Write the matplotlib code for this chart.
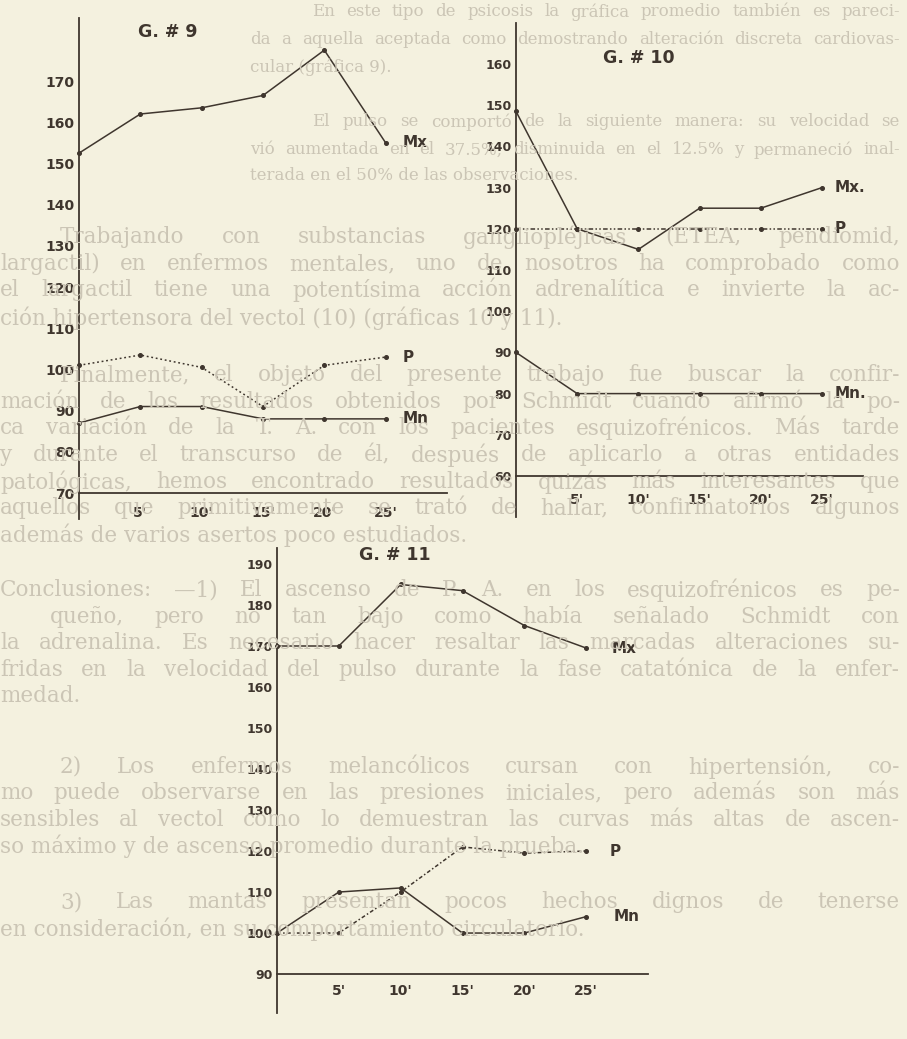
import matplotlib
matplotlib.use("Agg")
import matplotlib.pyplot as plt

# ---------------- data ----------------
minutes = [0, 5, 10, 15, 20, 25]
x_tick_minutes = [5, 10, 15, 20, 25]
x_tick_labels = ["5'", "10'", "15'", "20'", "25'"]

g9_mx = [152.5, 162, 163.5, 166.5, 177.5, 155]
g9_p = [101, 103.5, 100.5, 91, 101, 103]
g9_mn = [87, 91, 91, 88, 88, 88]
g9_yticks = [70, 80, 90, 100, 110, 120, 130, 140, 150, 160, 170]

g10_mx = [148.5, 120, 115, 125, 125, 130]
g10_p = [120, 120, 120, 120, 120, 120]
g10_mn = [90, 80, 80, 80, 80, 80]
g10_yticks = [60, 70, 80, 90, 100, 110, 120, 130, 140, 150, 160]

g11_mx = [170, 170, 185, 183.5, 175, 169.5]
g11_p = [100, 100, 110, 121, 119.5, 120]
g11_mn = [100, 110, 111, 100, 100, 104]
g11_yticks = [90, 100, 110, 120, 130, 140, 150, 160, 170, 180, 190]

titles = ["G. # 9", "G. # 10", "G. # 11"]
series_labels_9 = ["Mx", "P", "Mn"]
series_labels_10 = ["Mx.", "P", "Mn."]
series_labels_11 = ["Mx", "P", "Mn"]

# faint page text (y px, x px, justified, text)
page_lines = [
    (12, 312, True, "En este tipo de psicosis la gráfica promedio también es pareci-"),
    (40, 250, True, "da a aquella aceptada como demostrando alteración discreta cardiovas-"),
    (67, 250, False, "cular (gráfica 9)."),
    (122, 312, True, "El pulso se comportó de la siguiente manera: su velocidad se"),
    (150, 250, True, "vió aumentada en el 37.5%, disminuida en el 12.5% y permaneció inal-"),
    (176, 250, False, "terada en el 50% de las observaciones."),
    (237, 60, True, "Trabajando con substancias gangliopléjicas (ETEA, pendiomid,"),
    (264, 0, True, "largactil) en enfermos mentales, uno de nosotros ha comprobado como"),
    (290, 0, True, "el largactil tiene una potentísima acción adrenalítica e invierte la ac-"),
    (318, 0, False, "ción hipertensora del vectol (10) (gráficas 10 y 11)."),
    (375, 60, True, "Finalmente, el objeto del presente trabajo fue buscar la confir-"),
    (402, 0, True, "mación de los resultados obtenidos por Schmidt cuando afirmó la po-"),
    (428, 0, True, "ca variación de la T. A. con los pacientes esquizofrénicos. Más tarde"),
    (455, 0, True, "y durante el transcurso de él, después de aplicarlo a otras entidades"),
    (482, 0, True, "patológicas, hemos encontrado resultados quizás más interesantes que"),
    (508, 0, True, "aquellos que primitivamente se trató de hallar, confirmatorios algunos"),
    (535, 0, False, "además de varios asertos poco estudiados."),
    (590, 0, True, "Conclusiones: —1) El ascenso de P. A. en los esquizofrénicos es pe-"),
    (617, 50, True, "queño, pero no tan bajo como había señalado Schmidt con"),
    (643, 0, True, "la adrenalina. Es necesario hacer resaltar las marcadas alteraciones su-"),
    (670, 0, True, "fridas en la velocidad del pulso durante la fase catatónica de la enfer-"),
    (696, 0, False, "medad."),
    (767, 60, True, "2) Los enfermos melancólicos cursan con hipertensión, co-"),
    (793, 0, True, "mo puede observarse en las presiones iniciales, pero además son más"),
    (820, 0, True, "sensibles al vectol como lo demuestran las curvas más altas de ascen-"),
    (846, 0, False, "so máximo y de ascenso promedio durante la prueba."),
    (902, 60, True, "3) Las mantas presentan pocos hechos dignos de tenerse"),
    (929, 0, False, "en consideración, en su comportamiento circulatorio."),
]

# ---------------- style ----------------
W, H = 907, 1039
PAPER = "#f4f1df"
INK = "#3f362e"
FAINT = "#cbc5b5"
LETTER = "DejaVu Sans"
PAGE_FONT = "DejaVu Serif"
PAGE_SIZE = 15.5
TOP_SIZE = 12.0

fig = plt.figure(figsize=(W / 100, H / 100), dpi=100)
fig.patch.set_facecolor(PAPER)

# background page text, justified
renderer = fig.canvas.get_renderer()
RIGHT = 900
for ypx, x0, just, txt in page_lines:
    yf = 1 - ypx / H
    size = TOP_SIZE if x0 >= 250 else PAGE_SIZE
    avail = RIGHT - x0
    if not just:
        fig.text(x0 / W, yf, txt, ha="left", va="center", fontsize=size,
                 family=PAGE_FONT, color=FAINT, zorder=0)
        continue
    words = txt.split(" ")
    arts = [fig.text(0, yf, w, ha="left", va="center", fontsize=size,
                     family=PAGE_FONT, color=FAINT, zorder=0) for w in words]
    widths = [a.get_window_extent(renderer).width for a in arts]
    gap = max((avail - sum(widths)) / max(len(words) - 1, 1), 3)
    x = x0
    for a, w in zip(arts, widths):
        a.set_x(x / W)
        x += w + gap


def make_axes(left, right, top, bottom, xlim, ylim, xaxis_y):
    ax = fig.add_axes([left / W, 1 - bottom / H, (right - left) / W, (bottom - top) / H])
    ax.patch.set_visible(False)
    ax.set_xlim(*xlim)
    ax.set_ylim(*ylim)
    for s in ("top", "right"):
        ax.spines[s].set_visible(False)
    ax.spines["left"].set_color(INK)
    ax.spines["left"].set_linewidth(1.3)
    ax.spines["bottom"].set_color(INK)
    ax.spines["bottom"].set_linewidth(1.3)
    ax.spines["bottom"].set_position(("data", xaxis_y))
    return ax


def style_ticks(ax, yticks, xpad, ysize=10, xsize=10):
    ax.set_yticks(yticks)
    ax.set_yticklabels([str(v) for v in yticks], fontsize=ysize, fontweight="bold",
                       family=LETTER, color=INK)
    ax.set_xticks(x_tick_minutes)
    ax.set_xticklabels(x_tick_labels, fontsize=xsize, fontweight="bold",
                       family=LETTER, color=INK)
    ax.tick_params(axis="y", length=0, pad=3)
    ax.tick_params(axis="x", length=0, pad=xpad)


def series(ax, y, style, labels_text, dx, mk="o"):
    ax.plot(minutes, y, linestyle=style, color=INK, lw=1.1, marker=mk, ms=2.6,
            mfc=INK, mec=INK, clip_on=False)
    ax.annotate(labels_text, xy=(minutes[-1], y[-1]), xytext=(dx, 0),
                textcoords="offset points", va="center", ha="left", fontsize=11,
                fontweight="bold", family=LETTER, color=INK, annotation_clip=False)


DOT_P = (0, (1.2, 1.8))
DASHDOTDOT = (0, (3, 1.5, 1, 1.5, 1, 1.5))
DASHDOT = (0, (2.5, 1.5, 1, 1.5))

# ---- G # 9 ----
ax9 = make_axes(79, 447, 18, 519, (0, 30), (63.7, 185.3), 70)
style_ticks(ax9, g9_yticks, 9)
series(ax9, g9_mx, "-", series_labels_9[0], 12)
series(ax9, g9_p, DOT_P, series_labels_9[1], 12)
series(ax9, g9_mn, "-", series_labels_9[2], 12)
ax9.text(0.16, 0.972, titles[0], transform=ax9.transAxes, fontsize=12.5,
         fontweight="bold", family=LETTER, color=INK, va="center", ha="left")

# ---- G # 10 ----
ax10 = make_axes(516, 863, 23, 517, (0, 28.35), (50.05, 169.95), 60)
style_ticks(ax10, g10_yticks, 12, ysize=9)
series(ax10, g10_mx, "-", series_labels_10[0], 9)
series(ax10, g10_p, DASHDOTDOT, series_labels_10[1], 9)
series(ax10, g10_mn, "-", series_labels_10[2], 9)
ax10.text(0.25, 0.93, titles[1], transform=ax10.transAxes, fontsize=12.5,
          fontweight="bold", family=LETTER, color=INK, va="center", ha="left")

# ---- G # 11 ----
ax11 = make_axes(277, 648, 548, 1013, (0, 30), (80.5, 193.9), 90)
style_ticks(ax11, g11_yticks, 7, ysize=9)
series(ax11, g11_mx, "-", series_labels_11[0], 18)
series(ax11, g11_p, DASHDOT, series_labels_11[1], 17)
series(ax11, g11_mn, "-", series_labels_11[2], 20)
ax11.text(0.22, 0.985, titles[2], transform=ax11.transAxes, fontsize=12.5,
          fontweight="bold", family=LETTER, color=INK, va="center", ha="left")

fig.savefig("out.png", dpi=100, facecolor=PAPER)
